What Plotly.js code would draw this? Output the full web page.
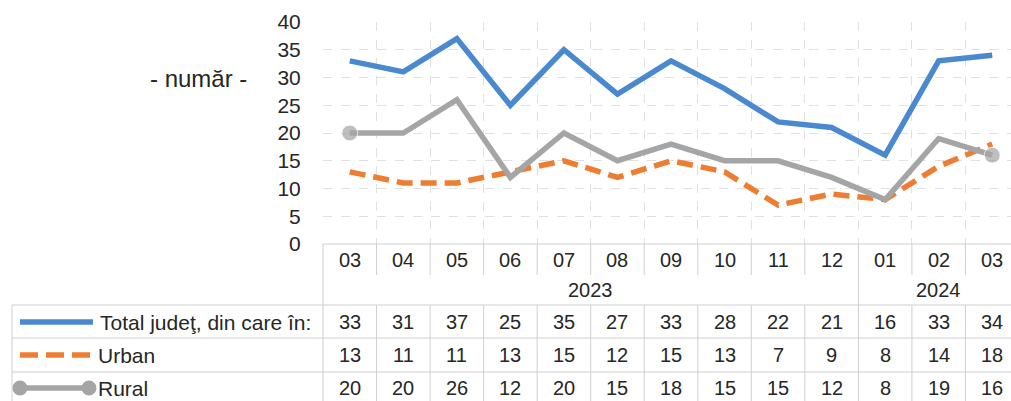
<!DOCTYPE html>
<html>
<head>
<meta charset="utf-8">
<script src="https://cdn.plot.ly/plotly-3.0.1.min.js"></script>
<style>
html,body{margin:0;padding:0;overflow:hidden;background:#fff;}
#chart{width:1020px;height:401px;}
</style>
</head>
<body>
<div id="chart"></div>
<script>
// ---- data ----
const months = ['03','04','05','06','07','08','09','10','11','12','01','02','03'];
const yearLabels = ['2023','2024'];
const yearSpans = [10, 3];
const total = [33,31,37,25,35,27,33,28,22,21,16,33,34];
const urban = [13,11,11,13,15,12,15,13,7,9,8,14,18];
const rural = [20,20,26,12,20,15,18,15,15,12,8,19,16];
const seriesNames = ['Total judeţ, din care în:','Urban','Rural'];
const yTicks = [0,5,10,15,20,25,30,35,40];
const yLabel = '- număr -';

// ---- style ----
const BLUE = '#4a89cf', ORANGE = '#ed7d31', GRAY = '#a5a5a5';
const GRID = '#e0e0e0', TABLE = '#cfcfcf', TXT = '#262626';
const FONT = '"Liberation Sans", Arial, sans-serif';

// plot area in pixels
const L = 323, T = 22, B = 244, W = 1020 - L - 1, H = B - T;
const px = v => (v - L) / W;
const py = v => (B - v) / H;

const n = months.length;
const xs = months.map((_, i) => i);

const traces = [
  {x: xs, y: total, type: 'scatter', mode: 'lines', name: seriesNames[0],
   line: {color: BLUE, width: 5.5}},
  {x: xs, y: urban, type: 'scatter', mode: 'lines', name: seriesNames[1],
   line: {color: ORANGE, width: 5.5, dash: '16px,8px'}},
  {x: xs, y: rural, type: 'scatter', mode: 'lines+markers', name: seriesNames[2],
   line: {color: GRAY, width: 5.5},
   marker: {color: GRAY, size: rural.map((v, i) => (i === 0 || i === n - 1) ? 16 : 0)},
   cliponaxis: false}
];

const shapes = [];
const annotations = [];
function hline(x0, x1, y, color, w) {
  shapes.push({type: 'line', xref: 'paper', yref: 'paper', x0: px(x0), x1: px(x1), y0: py(y), y1: py(y),
    line: {color: color, width: w || 1}});
}
function vlineData(xv, y0, y1) {
  shapes.push({type: 'line', xref: 'x', yref: 'paper', x0: xv, x1: xv, y0: py(y0), y1: py(y1),
    line: {color: TABLE, width: 1}});
}
function vlinePx(x, y0, y1) {
  shapes.push({type: 'line', xref: 'paper', yref: 'paper', x0: px(x), x1: px(x), y0: py(y0), y1: py(y1),
    line: {color: TABLE, width: 1}});
}

// table row geometry (pixels)
const MONTH_TOP = 244, MONTH_BOT = 275;
const rowTops = [305, 338, 372];
const rowBot = 406;
const rowMid = [322, 355, 388];

// horizontal lines
hline(L, 1019, MONTH_TOP, TABLE);
rowTops.forEach(y => hline(12, 1019, y, TABLE));
hline(12, 1019, rowBot, TABLE);
// left borders
vlinePx(L, MONTH_TOP, rowBot);
vlinePx(12, rowTops[0], rowBot);

// column boundaries
let yearBoundaries = [];
let acc = 0;
yearSpans.forEach(s => { acc += s; yearBoundaries.push(acc - 0.5); });
for (let i = 0; i < n - 1; i++) {
  const xv = i + 0.5;
  if (yearBoundaries.includes(xv)) {
    vlineData(xv, MONTH_TOP, rowBot);
  } else {
    vlineData(xv, MONTH_TOP, MONTH_BOT);
    vlineData(xv, rowTops[0], rowBot);
  }
}

const tfont = {family: FONT, size: 20, color: TXT};
// month labels
months.forEach((m, i) => annotations.push({x: i, y: py(260), xref: 'x', yref: 'paper', text: m,
  showarrow: false, font: tfont, xanchor: 'center', yanchor: 'middle'}));
// year labels
let start = 0;
yearLabels.forEach((lab, k) => {
  const c = start + (yearSpans[k] - 1) / 2;
  annotations.push({x: c, y: py(290), xref: 'x', yref: 'paper', text: lab, showarrow: false,
    font: tfont, xanchor: 'center', yanchor: 'middle'});
  start += yearSpans[k];
});
// values
[total, urban, rural].forEach((arr, r) => {
  arr.forEach((v, i) => annotations.push({x: i, y: py(rowMid[r]), xref: 'x', yref: 'paper',
    text: String(v), showarrow: false, font: tfont, xanchor: 'center', yanchor: 'middle'}));
});
// legend labels
seriesNames.forEach((s, r) => annotations.push({x: px(r === 0 ? 98 : 96), y: py(rowMid[r]), xref: 'paper', yref: 'paper',
  text: s, showarrow: false, font: {family: FONT, size: 21, color: TXT}, xanchor: 'left', yanchor: 'middle'}));
// legend keys
shapes.push({type: 'line', xref: 'paper', yref: 'paper', x0: px(20), x1: px(93), y0: py(rowMid[0]), y1: py(rowMid[0]),
  line: {color: BLUE, width: 5.5}});
shapes.push({type: 'line', xref: 'paper', yref: 'paper', x0: px(20), x1: px(93), y0: py(rowMid[1]), y1: py(rowMid[1]),
  line: {color: ORANGE, width: 5.5, dash: '18px,8px'}});
shapes.push({type: 'line', xref: 'paper', yref: 'paper', x0: px(20), x1: px(89), y0: py(rowMid[2]), y1: py(rowMid[2]),
  line: {color: GRAY, width: 5.5}});
[20, 89].forEach(cx => shapes.push({type: 'circle', xref: 'paper', yref: 'paper',
  x0: px(cx - 7.5), x1: px(cx + 7.5), y0: py(rowMid[2] + 7.5), y1: py(rowMid[2] - 7.5),
  fillcolor: GRAY, line: {color: GRAY, width: 0}}));

// y axis label
annotations.push({x: px(198), y: py(78), xref: 'paper', yref: 'paper', text: yLabel, showarrow: false,
  font: {family: FONT, size: 24, color: TXT}, xanchor: 'center', yanchor: 'middle'});

const gridX = [];
for (let i = 0; i < n - 1; i++) gridX.push(i + 0.5);

const layout = {
  width: 1020, height: 401,
  margin: {l: L, r: 1, t: T, b: 401 - B, pad: 0},
  paper_bgcolor: '#fff', plot_bgcolor: '#fff',
  showlegend: false,
  font: {family: FONT, color: TXT},
  xaxis: {type: 'linear', range: [-0.5, n - 0.5], tickmode: 'array', tickvals: gridX,
    showticklabels: false, ticks: '', showgrid: true, gridcolor: GRID, griddash: 'dash', gridwidth: 1,
    zeroline: false, showline: false, fixedrange: true},
  yaxis: {range: [0, 40], tickmode: 'array', tickvals: yTicks, ticktext: yTicks.map(String),
    ticks: 'outside', ticklen: 17, tickcolor: 'rgba(0,0,0,0)',
    tickfont: {family: FONT, size: 21, color: TXT},
    showgrid: true, gridcolor: GRID, griddash: 'dash', gridwidth: 1,
    zeroline: false, showline: false, fixedrange: true},
  shapes: shapes,
  annotations: annotations
};

Plotly.newPlot('chart', traces, layout, {displayModeBar: false, staticPlot: true});
</script>
</body>
</html>
